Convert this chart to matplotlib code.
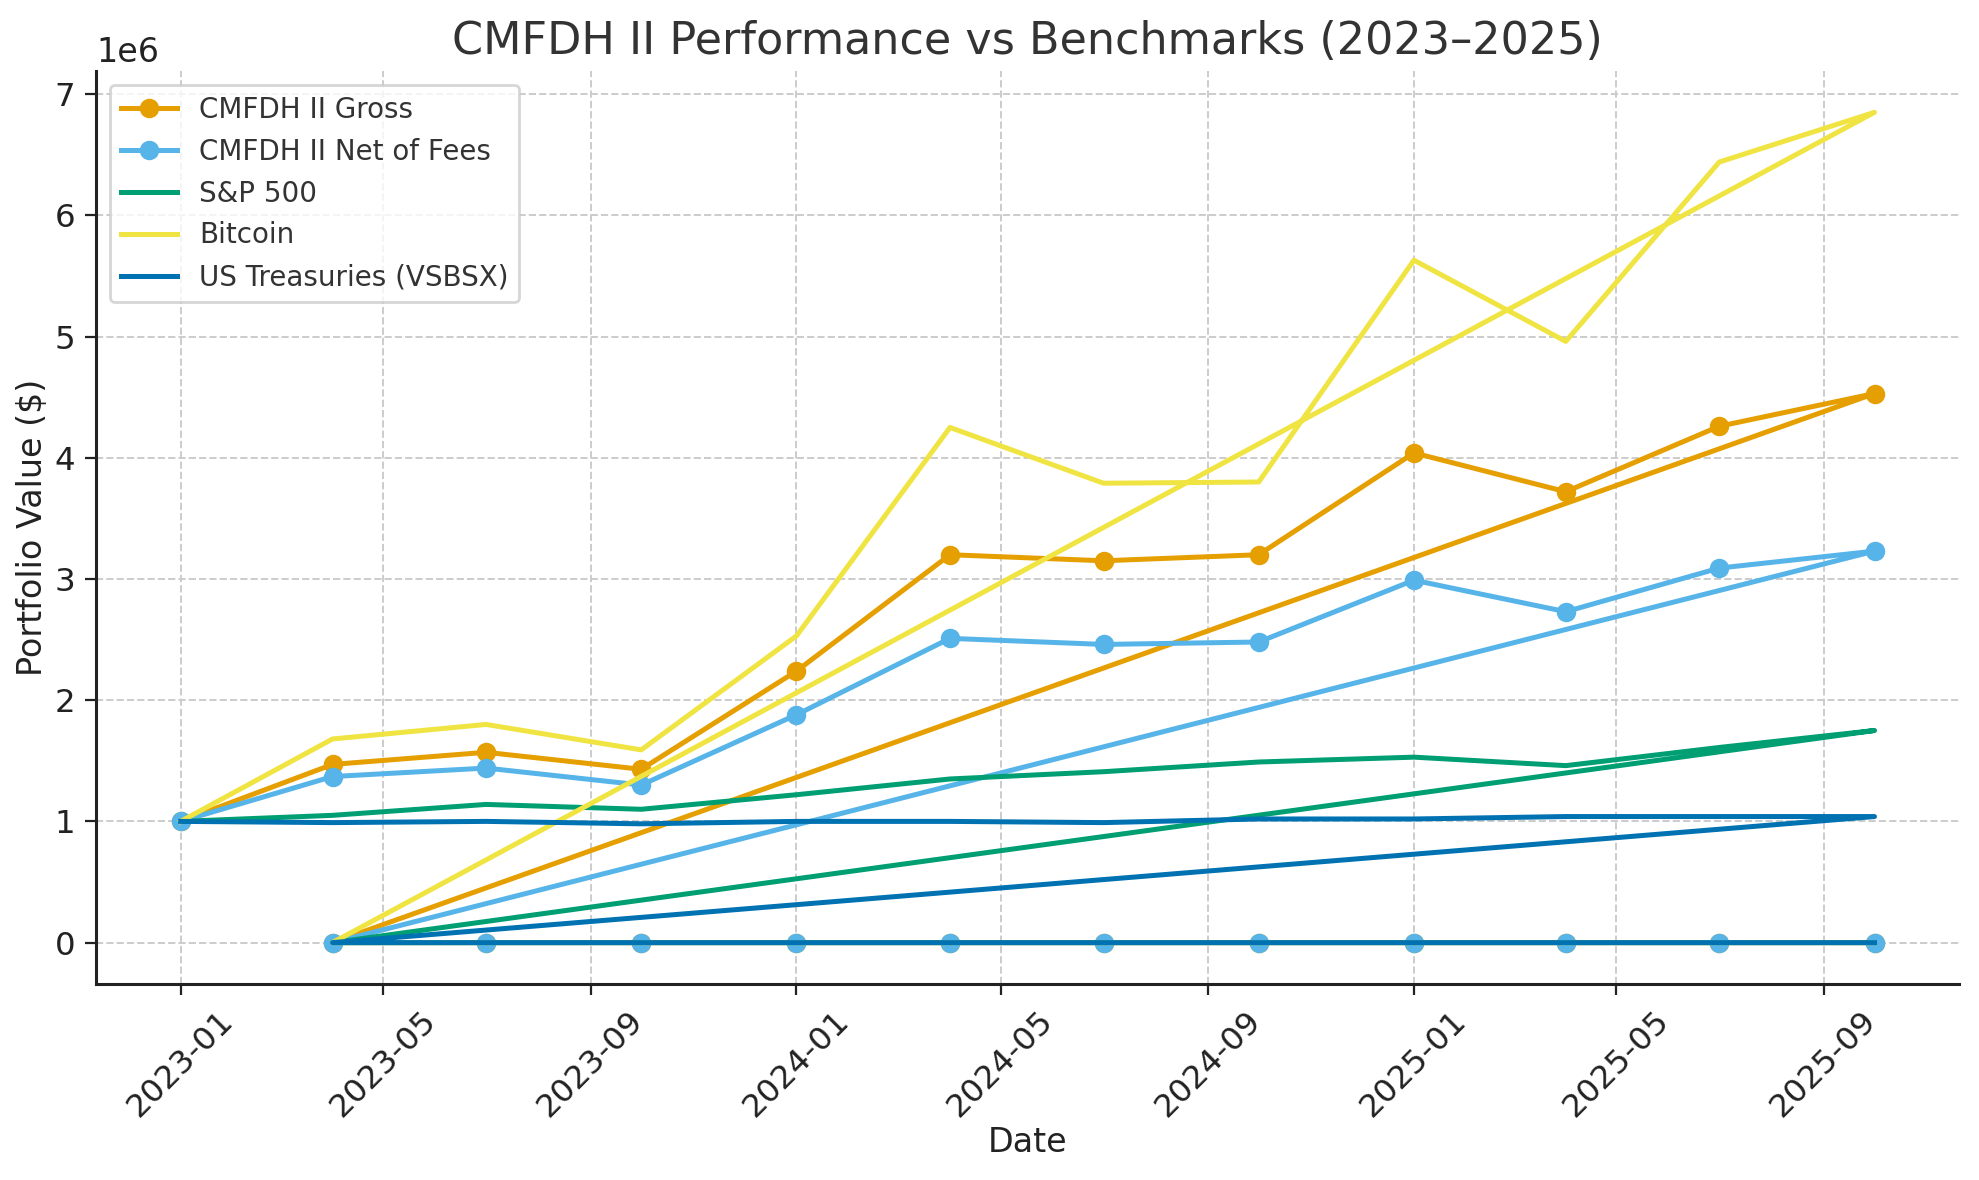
import matplotlib
matplotlib.use("Agg")
import matplotlib.pyplot as plt
import matplotlib.dates as mdates
import pandas as pd

# Quarterly observation dates
dates = pd.to_datetime([
    "2023-01-01", "2023-04-01", "2023-07-01", "2023-10-01",
    "2024-01-01", "2024-04-01", "2024-07-01", "2024-10-01",
    "2025-01-01", "2025-04-01", "2025-07-01", "2025-10-01",
])

# Series values ($)
gross = [1.00e6, 1.47e6, 1.57e6, 1.43e6, 2.24e6, 3.20e6, 3.15e6, 3.20e6, 4.04e6, 3.72e6, 4.26e6, 4.53e6]
net = [1.00e6, 1.37e6, 1.44e6, 1.30e6, 1.88e6, 2.51e6, 2.46e6, 2.48e6, 2.99e6, 2.73e6, 3.09e6, 3.23e6]
sp500 = [1.00e6, 1.05e6, 1.14e6, 1.10e6, 1.22e6, 1.35e6, 1.41e6, 1.49e6, 1.53e6, 1.46e6, 1.61e6, 1.75e6]
bitcoin = [1.00e6, 1.68e6, 1.80e6, 1.59e6, 2.53e6, 4.25e6, 3.79e6, 3.80e6, 5.63e6, 4.96e6, 6.44e6, 6.85e6]
treasuries = [1.00e6, 0.99e6, 1.00e6, 0.98e6, 1.00e6, 1.00e6, 0.99e6, 1.02e6, 1.02e6, 1.04e6, 1.04e6, 1.04e6]

# Trailing padded rows present in the source data (zero values)
pad_dates = pd.to_datetime([
    "2023-04-01", "2023-07-01", "2023-10-01",
    "2024-01-01", "2024-04-01", "2024-07-01", "2024-10-01",
    "2025-01-01", "2025-04-01", "2025-07-01", "2025-10-01",
])
pad_values = [0, 0, 0, 0, 0, 0, 0, 0, 0, 0, 0]

labels = ["CMFDH II Gross", "CMFDH II Net of Fees", "S&P 500", "Bitcoin", "US Treasuries (VSBSX)"]
colors = ["#E69F00", "#56B4E9", "#009E73", "#F0E442", "#0072B2"]
markers = ["o", "o", None, None, None]
series = [gross, net, sp500, bitcoin, treasuries]

plt.rcParams['font.family'] = ['DejaVu Sans']

fig = plt.figure(figsize=(9.895, 5.9), dpi=200)
ax = fig.add_axes([0.0485, 0.166, 0.9415, 0.774])

all_dates = list(dates) + list(pad_dates)
for vals, lab, col, mk in zip(series, labels, colors, markers):
    ax.plot(all_dates, list(vals) + pad_values, color=col, lw=1.8,
            marker=mk, markersize=6, label=lab)

ax.set_title("CMFDH II Performance vs Benchmarks (2023\u20132025)", fontsize=16, color="#333333", pad=6)
ax.set_xlabel("Date", fontsize=12, color="#222222", labelpad=1)
ax.set_ylabel("Portfolio Value ($)", fontsize=12, color="#222222", labelpad=2)

ax.xaxis.set_major_locator(mdates.MonthLocator(bymonth=[1, 5, 9]))
ax.xaxis.set_major_formatter(mdates.DateFormatter("%Y-%m"))
ax.tick_params(axis="both", labelsize=11.7, colors="#222222", length=4)
plt.setp(ax.get_xticklabels(), rotation=45)
ax.yaxis.get_offset_text().set_fontsize(12)

ax.grid(True, linestyle="--", color="#cccccc", linewidth=0.7)
ax.set_axisbelow(True)
for s in ["top", "right"]:
    ax.spines[s].set_visible(False)
for s in ["left", "bottom"]:
    ax.spines[s].set_linewidth(1.1)
    ax.spines[s].set_color("#222222")

leg = ax.legend(loc="upper left", fontsize=10, frameon=True)
for t in leg.get_texts():
    t.set_color("#333333")

fig.savefig("out.png", dpi=200)
